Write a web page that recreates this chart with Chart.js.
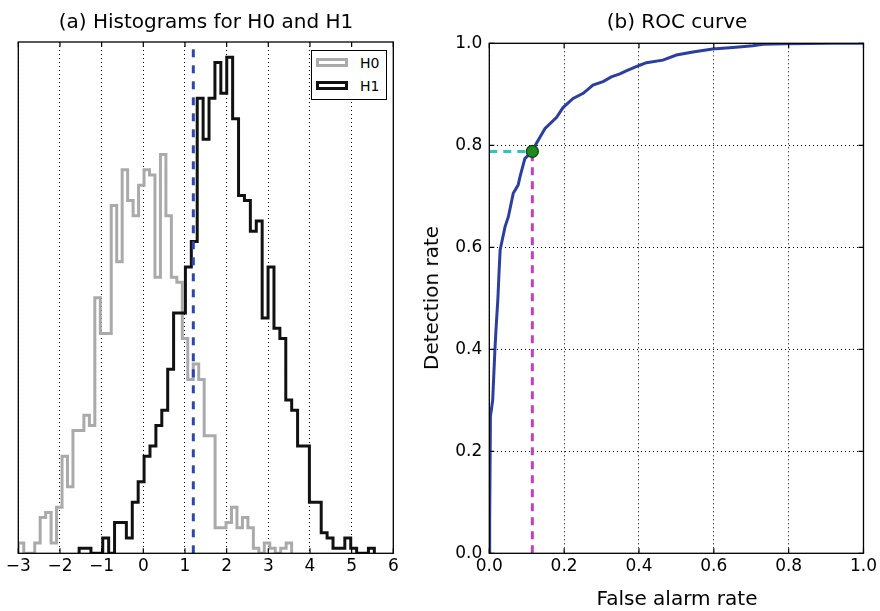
<!DOCTYPE html>
<html>
<head>
<meta charset="utf-8">
<script src="https://cdn.jsdelivr.net/npm/chart.js@4.4.1/dist/chart.umd.min.js"></script>
<style>
  body { margin: 0; background: #fff; }
  #wrap { position: relative; width: 880px; height: 611px; font-family: "DejaVu Sans", sans-serif; color: #000; }
  canvas { position: absolute; top: 0; }
  .txt { position: absolute; white-space: nowrap; line-height: 1; transform: translate(-50%, -50%); }
  #legend { position: absolute; left: 311px; top: 50px; width: 74px; height: 48px; border: 1.3px solid #000; background: #fff; font-size: 14px; }
  .item { position: absolute; left: 4px; height: 9px; }
  .patch { position: absolute; left: 0; top: 0; width: 26px; height: 3px; background: #fff; }
  .lab { position: absolute; left: 44px; top: -2.5px; line-height: 1; }
</style>
</head>
<body>
<div id="wrap">
  <canvas id="hist" width="440" height="611" style="left:0"></canvas>
  <canvas id="roc" width="480" height="611" style="left:400px"></canvas>
  <div class="txt" style="left:206px; top:21px; font-size:20px">(a) Histograms for H0 and H1</div>
  <div class="txt" style="left:677px; top:21px; font-size:20px">(b) ROC curve</div>
  <div class="txt" style="left:677px; top:598px; font-size:20px">False alarm rate</div>
  <div class="txt" style="left:431px; top:298px; font-size:20px; transform: translate(-50%, -50%) rotate(-90deg)">Detection rate</div>
  <div id="legend">
    <div class="item" style="top:7px"><div class="patch" style="border:3px solid #aaaaaa"></div><div class="lab">H0</div></div>
    <div class="item" style="top:30px"><div class="patch" style="border:3px solid #111"></div><div class="lab">H1</div></div>
  </div>
</div>
<script>
// --- histogram data (counts per bin) ---
const H0_START = -3.0;
const H0_WIDTH = 0.1312;
const H0_COUNTS = [2, 0, 0, 2, 7, 8, 2, 9, 19, 13, 24, 24, 27, 25, 50, 43, 43, 68, 57, 75,
                   69, 66, 72, 75, 74, 54, 78, 66, 54, 53, 42, 34, 37, 34, 23, 23, 5, 5, 6, 9,
                   5, 7, 5, 1, 0, 2, 1, 0, 1, 2];
const H1_START = -1.54;
const H1_WIDTH = 0.1417;
const H1_COUNTS = [1, 1, 0, 0, 3, 0, 6, 6, 3, 10, 14, 19, 21, 25, 28, 36, 47, 47, 56, 61,
                   89, 81, 89, 96, 90, 97, 85, 70, 69, 63, 65, 46, 56, 44, 42, 30, 28, 21, 21, 10,
                   10, 4, 3, 1, 1, 3, 1, 0, 0, 1];
const THRESHOLD = 1.2;
const HIST_X_TICKS = [-3, -2, -1, 0, 1, 2, 3, 4, 5, 6];

// --- ROC data ---
const ROC_FAR = [0, 0.001, 0.003, 0.009, 0.015, 0.018, 0.023, 0.026, 0.029, 0.042, 0.051, 0.064, 0.077,
                 0.082, 0.095, 0.115, 0.126, 0.149, 0.18, 0.197, 0.224, 0.251, 0.277, 0.304, 0.326,
                 0.349, 0.366, 0.402, 0.42, 0.464, 0.5, 0.544, 0.597, 0.651, 0.704, 0.731, 0.793, 0.917, 1.0];
const ROC_DET = [0, 0.065, 0.268, 0.30, 0.399, 0.44, 0.50, 0.55, 0.595, 0.640, 0.66, 0.706, 0.722,
                 0.738, 0.774, 0.788, 0.804, 0.833, 0.855, 0.874, 0.892, 0.902, 0.918, 0.925, 0.934,
                 0.940, 0.946, 0.957, 0.962, 0.967, 0.977, 0.983, 0.989, 0.992, 0.995, 0.998, 0.999, 1.0, 1.0];
const OP_FAR = 0.115;
const OP_DET = 0.788;
const ROC_TICKS = [0, 0.2, 0.4, 0.6, 0.8, 1.0];

Chart.defaults.font.family = 'DejaVu Sans';
Chart.defaults.font.size = 17;
Chart.defaults.color = '#000';

// outline of a step histogram: two corners at every bin edge
function histOutline(start, width, counts) {
  const pts = [];
  for (let i = 0; i <= counts.length; i++) {
    const x = start + i * width;
    pts.push({ x: x, y: i === 0 ? 0 : counts[i - 1] });
    pts.push({ x: x, y: i === counts.length ? 0 : counts[i] });
  }
  return pts;
}

// box round the axes with inward ticks, like matplotlib classic
const framePlugin = {
  id: 'frame',
  afterDraw(chart, args, opts) {
    const { ctx, chartArea: a, scales } = chart;
    ctx.save();
    ctx.strokeStyle = '#000';
    ctx.lineWidth = 1.3;
    ctx.strokeRect(a.left, a.top, a.right - a.left, a.bottom - a.top);
    ctx.lineWidth = 1.2;
    ctx.beginPath();
    scales.x.ticks.forEach(t => {
      const x = scales.x.getPixelForValue(t.value);
      ctx.moveTo(x, a.bottom); ctx.lineTo(x, a.bottom - 5);
      ctx.moveTo(x, a.top); ctx.lineTo(x, a.top + 5);
    });
    if (opts.yTicks) {
      scales.y.ticks.forEach(t => {
        const y = scales.y.getPixelForValue(t.value);
        ctx.moveTo(a.left, y); ctx.lineTo(a.left + 5, y);
        ctx.moveTo(a.right, y); ctx.lineTo(a.right - 5, y);
      });
    }
    ctx.stroke();
    ctx.restore();
  }
};

const dotted = { display: true, color: '#000', lineWidth: 1, drawTicks: false };
const fmtMinus = v => (v < 0 ? '\u2212' + Math.abs(v) : String(v));

new Chart(document.getElementById('hist'), {
  type: 'line',
  data: {
    datasets: [{
      data: [{ x: THRESHOLD, y: 0 }, { x: THRESHOLD, y: 100 }],
      borderColor: '#2e45ad', borderWidth: 3, borderDash: [8, 8], pointRadius: 0, order: 0
    }, {
      label: 'H1',
      data: histOutline(H1_START, H1_WIDTH, H1_COUNTS),
      borderColor: '#111', borderWidth: 3, pointRadius: 0, order: 1
    }, {
      label: 'H0',
      data: histOutline(H0_START, H0_WIDTH, H0_COUNTS),
      borderColor: '#aaaaaa', borderWidth: 3, pointRadius: 0, order: 2
    }]
  },
  options: {
    responsive: false, animation: false, events: [],
    layout: { padding: { left: 18.3, right: 46.7, top: 42, bottom: 27.7 } },
    plugins: { legend: { display: false }, tooltip: { enabled: false }, frame: { yTicks: false } },
    scales: {
      x: {
        type: 'linear', min: -3, max: 6,
        afterBuildTicks: s => { s.ticks = HIST_X_TICKS.map(v => ({ value: v })); },
        afterFit: s => { s.height = 30; },
        grid: dotted, border: { display: false, dash: [1, 3] },
        ticks: { padding: 3, callback: fmtMinus, maxRotation: 0 }
      },
      y: { type: 'linear', min: 0, max: 100, display: false }
    }
  },
  plugins: [framePlugin]
});

new Chart(document.getElementById('roc'), {
  type: 'line',
  data: {
    datasets: [{
      data: [{ x: OP_FAR, y: OP_DET }],
      showLine: false, pointRadius: 6, pointBackgroundColor: '#1e8a1e',
      pointBorderColor: '#0b3d0b', pointBorderWidth: 1.2, order: 0
    }, {
      data: [{ x: 0, y: OP_DET }, { x: OP_FAR, y: OP_DET }],
      borderColor: '#2ec4c0', borderWidth: 3, borderDash: [8, 6], pointRadius: 0, order: 1
    }, {
      data: [{ x: OP_FAR, y: 0 }, { x: OP_FAR, y: OP_DET }],
      borderColor: '#bf3fbf', borderWidth: 3, borderDash: [8, 6], pointRadius: 0, order: 2
    }, {
      data: ROC_FAR.map((f, i) => ({ x: f, y: ROC_DET[i] })),
      borderColor: '#2c3f9e', borderWidth: 3, pointRadius: 0, order: 3
    }]
  },
  options: {
    responsive: false, animation: false, events: [],
    layout: { padding: { left: 40, right: 16, top: 43.3, bottom: 27.7 } },
    plugins: { legend: { display: false }, tooltip: { enabled: false }, frame: { yTicks: true } },
    scales: {
      x: {
        type: 'linear', min: 0, max: 1,
        afterBuildTicks: s => { s.ticks = ROC_TICKS.map(v => ({ value: v })); },
        afterFit: s => { s.height = 30; },
        grid: dotted, border: { display: false, dash: [1, 3] },
        ticks: { padding: 3, callback: v => v.toFixed(1), maxRotation: 0 }
      },
      y: {
        type: 'linear', min: 0, max: 1,
        afterBuildTicks: s => { s.ticks = ROC_TICKS.map(v => ({ value: v })); },
        afterFit: s => { s.width = 49.3; },
        grid: dotted, border: { display: false, dash: [1, 3] },
        ticks: { padding: 7, callback: v => v.toFixed(1) }
      }
    }
  },
  plugins: [framePlugin]
});
</script>
</body>
</html>
